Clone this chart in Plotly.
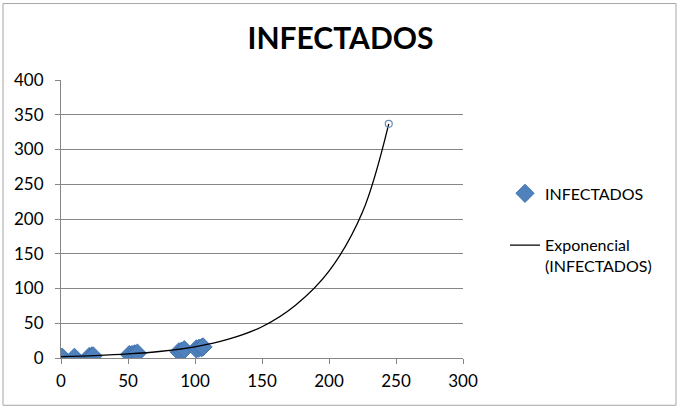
import plotly.graph_objects as go

# Observed data (INFECTADOS)
x_data = [0, 1, 10, 21, 23, 24, 51, 53, 55, 57, 88, 90, 92, 101, 103, 105, 106]
y_data = [1, 1, 1, 2, 3, 3, 5, 5, 6, 7, 9, 10, 12, 13, 14, 15, 16]

# Exponential trendline values
trend_x = [0, 25, 50, 75, 100, 125, 150, 175, 200, 225, 244.6]
trend_y = [2.1, 3.5, 5.8, 9.7, 16, 27, 45, 76, 125, 210, 337]

# End point marker (hollow circle)
end_x = [244.6]
end_y = [337]

x_ticks = [0, 50, 100, 150, 200, 250, 300]
y_ticks = [0, 50, 100, 150, 200, 250, 300, 350, 400]

FONT = "Lato, Open Sans, sans-serif"
GRID = "#868686"

fig = go.Figure()
fig.add_trace(go.Scatter(
    x=x_data, y=y_data, mode="markers", name="INFECTADOS",
    marker=dict(symbol="diamond", size=14, color="#4F81BD",
                line=dict(color="#3F72AE", width=1)),
    legendgroup="a",
))
fig.add_trace(go.Scatter(
    x=trend_x, y=trend_y, mode="lines", name="Exponencial<br>(INFECTADOS)",
    line=dict(color="black", width=1.3, shape="spline"),
    legendgroup="b",
))
fig.add_trace(go.Scatter(
    x=end_x, y=end_y, mode="markers", showlegend=False,
    marker=dict(symbol="circle-open", size=7, color="#6A8FB5",
                line=dict(width=1.2)),
))

fig.update_layout(
    width=681, height=408,
    margin=dict(l=61, r=218, t=79.5, b=50.3),
    paper_bgcolor="white", plot_bgcolor="white",
    font=dict(family=FONT, size=17, color="#000000"),
    title=dict(text="<b>INFECTADOS</b>", x=0.5, xanchor="center",
               y=1 - 38 / 408, yanchor="middle",
               font=dict(family="Liberation Sans Narrow, Lato, sans-serif", size=30, color="black")),
    xaxis=dict(range=[0, 300], tickvals=x_ticks, showgrid=False,
               showline=True, linecolor=GRID, linewidth=1,
               ticks="outside", ticklen=5, tickcolor=GRID,
               zeroline=False, fixedrange=True, ticklabelstandoff=3,
               tickfont=dict(family=FONT, size=17)),
    yaxis=dict(range=[0, 400], tickvals=y_ticks, showgrid=True,
               gridcolor=GRID, gridwidth=1,
               showline=True, linecolor=GRID, linewidth=1,
               ticks="outside", ticklen=5, tickcolor=GRID,
               zeroline=False, fixedrange=True, ticklabelstandoff=8,
               tickfont=dict(family=FONT, size=17)),
    legend=dict(x=(505 - 61) / 402, xanchor="left",
                y=(357.7 - 176) / 278.2, yanchor="top",
                traceorder="grouped", tracegroupgap=28, valign="top",
                font=dict(family=FONT, size=16),
                bgcolor="rgba(0,0,0,0)"),
    showlegend=True,
    shapes=[dict(type="rect", xref="paper", yref="paper",
                 x0=(3 - 61) / 402, x1=(676 - 61) / 402,
                 y0=(357.7 - 405) / 278.2, y1=(357.7 - 3) / 278.2,
                 line=dict(color="#A6A6A6", width=1), layer="below")],
)

fig.write_html("out.html")
